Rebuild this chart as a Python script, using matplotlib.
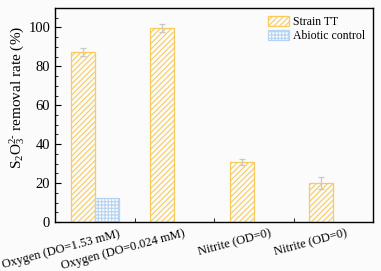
import numpy as np
import matplotlib
matplotlib.use("Agg")
import matplotlib.pyplot as plt
from matplotlib import transforms

plt.rcParams['font.family'] = ['Liberation Serif', 'DejaVu Serif']
plt.rcParams['mathtext.fontset'] = 'custom'
plt.rcParams['mathtext.rm'] = 'Liberation Serif'
plt.rcParams['mathtext.it'] = 'Liberation Serif:italic'
plt.rcParams['hatch.linewidth'] = 0.8

categories = ['Oxygen (DO=1.53 mM)', 'Oxygen (DO=0.024 mM)',
              'Nitrite (OD=0)', 'Nitrite (OD=0)']
strain_tt = [87.5, 99.9, 30.7, 20.2]
strain_tt_err = [2.0, 2.0, 1.5, 3.0]
abiotic = [12.2, 0, 0, 0]

orange = '#F7CB5E'
blue = '#B5D3F2'

fig = plt.figure(figsize=(3.81, 2.71), dpi=100, facecolor='#fbfbfb')
ax = fig.add_axes([55 / 381, 1 - 222 / 271, 318 / 381, 214 / 271])
ax.set_facecolor('#fbfbfb')

x = np.arange(len(categories))
w = 0.3
ax.bar(x - w / 2, strain_tt, w, facecolor='none', edgecolor=orange,
       hatch='//////', linewidth=0.9, label='Strain TT')
ax.errorbar(x - w / 2, strain_tt, yerr=strain_tt_err, fmt='none',
            ecolor='#c8c8c8', elinewidth=0.9, capsize=2, capthick=0.9)
mask = np.array(abiotic) > 0
ax.bar((x + w / 2)[mask], np.array(abiotic)[mask], w, facecolor='none',
       edgecolor=blue, hatch='+++++', linewidth=0.9, label='Abiotic control')

ax.set_xlim(-0.5, 3.5)
ax.set_ylim(0, 110)
ax.set_yticks([0, 20, 40, 60, 80, 100])
ax.set_yticks(np.arange(0, 111, 5), minor=True)
ax.tick_params(axis='y', which='major', direction='in', length=4, labelsize=10.5)
ax.tick_params(axis='y', which='minor', direction='in', length=2)

ax.set_xticks(x)
ax.set_xticks([0.5, 1.5, 2.5], minor=True)
ax.tick_params(axis='x', which='major', length=0, pad=4)
ax.tick_params(axis='x', which='minor', direction='in', length=3)
ax.set_xticklabels(categories, rotation=15, ha='right', rotation_mode='anchor',
                   fontsize=9)
# per-label horizontal shifts (px) to match the reference placement
shifts = [23, 9, 16, 12]
for lab, dx in zip(ax.get_xticklabels(), shifts):
    off = transforms.ScaledTranslation(dx / 100, 0, fig.dpi_scale_trans)
    lab.set_transform(lab.get_transform() + off)

for s in ax.spines.values():
    s.set_linewidth(1.0)

ax.set_ylabel(r'S$_2$O$_3^{2\text{-}}$ removal rate (%)', fontsize=11)
ax.yaxis.set_label_coords(-0.088, 0.58)

ax.legend(loc='upper right', frameon=False, fontsize=8.5, handlelength=1.8,
          handleheight=0.85, handletextpad=0.3, labelspacing=0.15,
          borderaxespad=0.3, bbox_to_anchor=(1.0, 1.0))

fig.savefig('out.png', dpi=100, facecolor=fig.get_facecolor())
